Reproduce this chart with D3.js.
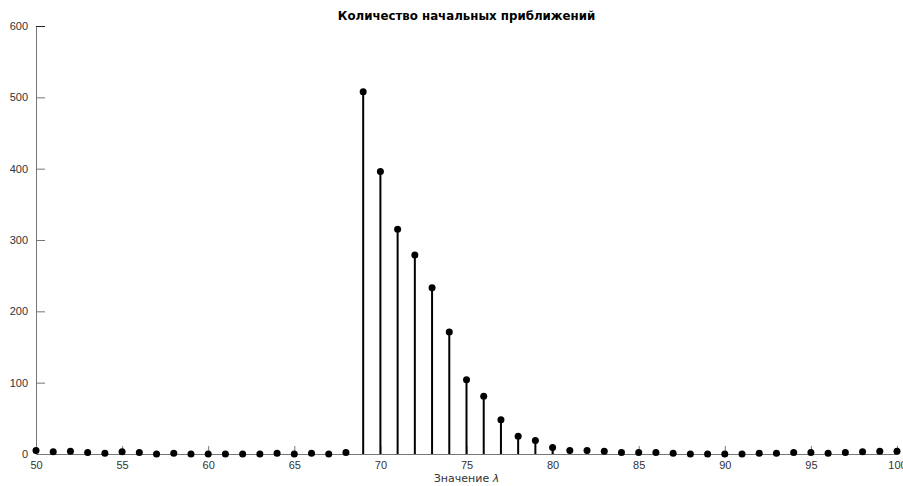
<!DOCTYPE html>
<html>
<head>
<meta charset="utf-8">
<script src="https://cdn.jsdelivr.net/npm/d3@7"></script>
<style>
  body { margin: 0; background: #fff; }
  .axis text { font-family: "Liberation Sans", Arial, sans-serif; font-size: 11px; fill: #333; }
</style>
</head>
<body>
<div id="chart"></div>
<script>
// lambda values and counts
const lambdas = d3.range(50, 101);
const counts = [
    5, 3, 4, 2, 1, 3, 2, 0, 1, 0,
    0, 0, 0, 0, 1, 0, 1, 0, 2, 508,
    396, 315, 279, 233, 171, 104, 81, 48, 25, 19,
    9, 5, 5, 4, 2, 2, 2, 1, 0, 0,
    0, 0, 1, 1, 2, 2, 1, 2, 3, 4,
    4
];
const yTicks = [0, 100, 200, 300, 400, 500, 600];
const xTicks = [50, 55, 60, 65, 70, 75, 80, 85, 90, 95, 100];

const width = 903;
const height = 486;
const margin = { top: 26, right: 6, bottom: 32, left: 36 };

const data = lambdas.map((l, i) => ({ l: l, v: counts[i] }));

const svg = d3.select("#chart")
    .append("svg")
    .attr("width", width)
    .attr("height", height);

const x = d3.scaleLinear().domain([50, 100]).range([margin.left, width - margin.right]);
const y = d3.scaleLinear().domain([0, 600]).range([height - margin.bottom, margin.top]);

// axes with inward ticks
const xAxis = svg.append("g")
    .attr("class", "axis")
    .attr("transform", "translate(0," + y(0) + ")")
    .call(d3.axisBottom(x).tickValues(xTicks).tickSizeInner(-8).tickSizeOuter(0).tickPadding(7));
xAxis.selectAll("line, path").attr("stroke", "#777");

const yAxis = svg.append("g")
    .attr("class", "axis")
    .attr("transform", "translate(" + margin.left + ",0)")
    .call(d3.axisLeft(y).tickValues(yTicks).tickSizeInner(-9).tickSizeOuter(0).tickPadding(8));
yAxis.selectAll("line, path").attr("stroke", "#777");
yAxis.select(".tick:last-of-type line").attr("stroke", "#222");

// stems
svg.append("g")
    .selectAll("line")
    .data(data)
    .enter()
    .append("line")
    .attr("x1", (d) => x(d.l))
    .attr("x2", (d) => x(d.l))
    .attr("y1", y(0))
    .attr("y2", (d) => y(d.v))
    .attr("stroke", "#000")
    .attr("stroke-width", 2);

// markers
svg.append("g")
    .selectAll("circle")
    .data(data)
    .enter()
    .append("circle")
    .attr("cx", (d) => x(d.l))
    .attr("cy", (d) => y(d.v))
    .attr("r", 3.5)
    .attr("fill", "#000");

// title
svg.append("text")
    .attr("x", (margin.left + width - margin.right) / 2)
    .attr("y", 20)
    .attr("text-anchor", "middle")
    .style("font-family", "DejaVu Sans, sans-serif")
    .style("font-weight", "bold")
    .style("font-size", "11.8px")
    .text("Количество начальных приближений");

// x label
const xl = svg.append("text")
    .attr("x", (margin.left + width - margin.right) / 2)
    .attr("y", 482)
    .attr("text-anchor", "middle")
    .style("font-family", "DejaVu Sans, sans-serif")
    .style("font-size", "11px")
    .style("fill", "#333");
xl.append("tspan").text("Значение ");
xl.append("tspan").style("font-style", "italic").text("λ");
</script>
</body>
</html>
